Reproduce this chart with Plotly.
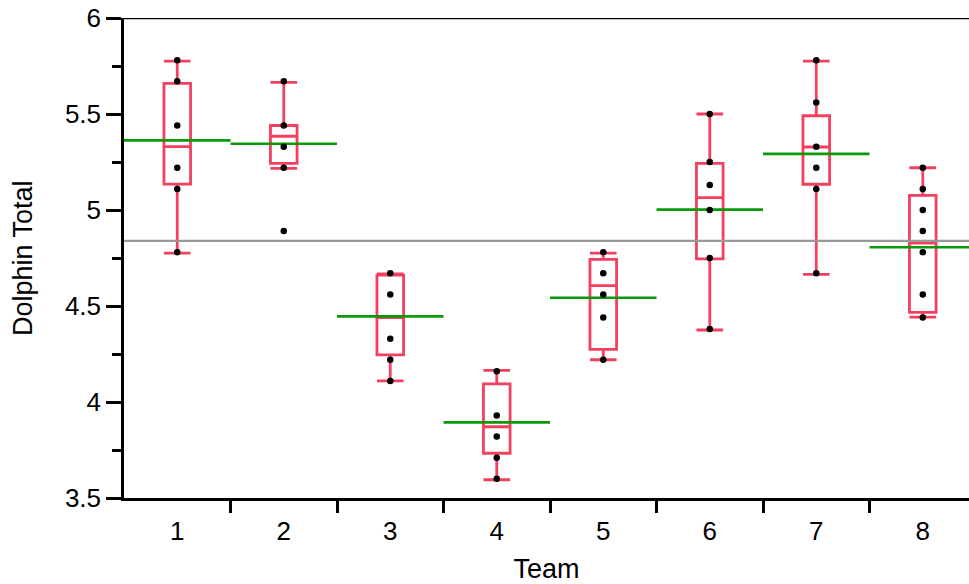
import plotly.graph_objects as go

teams = [1, 2, 3, 4, 5, 6, 7, 8]
team_labels = ["1", "2", "3", "4", "5", "6", "7", "8"]

points = {
    1: [5.78, 5.67, 5.44, 5.22, 5.11, 4.78],
    2: [5.67, 5.44, 5.33, 5.22, 4.89],
    3: [4.67, 4.56, 4.33, 4.22, 4.11],
    4: [4.16, 3.93, 3.82, 3.71, 3.60],
    5: [4.78, 4.67, 4.56, 4.44, 4.22],
    6: [5.50, 5.25, 5.13, 5.00, 4.75, 4.38],
    7: [5.78, 5.56, 5.33, 5.22, 5.11, 4.67],
    8: [5.22, 5.11, 5.00, 4.89, 4.78, 4.56, 4.44],
}

box_upper = [5.775, 5.665, 4.667, 4.165, 4.775, 5.50, 5.775, 5.22]
box_q3 = [5.66, 5.44, 4.661, 4.094, 4.743, 5.243, 5.491, 5.076]
box_median = [5.33, 5.384, 4.439, 3.871, 4.606, 5.064, 5.328, 4.828]
box_q1 = [5.135, 5.243, 4.245, 3.733, 4.274, 4.745, 5.134, 4.467]
box_lower = [4.775, 5.217, 4.11, 3.595, 4.22, 4.375, 4.665, 4.442]

team_means = [5.363, 5.345, 4.446, 3.894, 4.543, 5.002, 5.292, 4.806]
grand_mean = 4.839

RED = "#F4405E"
GREEN = "#0A990A"
GRAY = "#999999"
FONT = "Liberation Sans, Arial, Helvetica, sans-serif"

fig = go.Figure()

# grand mean line
fig.add_trace(go.Scatter(
    x=[0.5, 8.6], y=[grand_mean, grand_mean], mode="lines",
    line=dict(color=GRAY, width=2.4), hoverinfo="skip", showlegend=False,
))

# group mean lines
mx, my = [], []
for t, m in zip(teams, team_means):
    mx += [t - 0.5, t + 0.5, None]
    my += [m, m, None]
fig.add_trace(go.Scatter(
    x=mx, y=my, mode="lines", line=dict(color=GREEN, width=2.7),
    hoverinfo="skip", showlegend=False,
))

# boxes
fig.add_trace(go.Box(
    x=teams, q1=box_q1, median=box_median, q3=box_q3,
    lowerfence=box_lower, upperfence=box_upper,
    width=0.25, whiskerwidth=1.0,
    line=dict(color=RED, width=2.8), fillcolor="rgba(0,0,0,0)",
    boxpoints=False, showlegend=False,
))

# data points
px, py = [], []
for t in teams:
    for v in points[t]:
        px.append(t)
        py.append(v)
fig.add_trace(go.Scatter(
    x=px, y=py, mode="markers",
    marker=dict(color="black", size=6.5), showlegend=False,
))

# top frame line
fig.add_shape(type="line", xref="paper", yref="y", x0=0, x1=1, y0=6, y1=6,
              line=dict(color="black", width=2.5))

# y-axis title as annotation for precise placement
fig.add_annotation(text="Dolphin Total", xref="paper", yref="paper",
                   x=0, y=0.5, xanchor="center", yanchor="middle",
                   xshift=-101, textangle=-90, showarrow=False,
                   font=dict(size=27, family=FONT, color="black"))

fig.update_layout(
    width=969, height=584,
    margin=dict(l=124, r=0, t=18, b=86, autoexpand=False),
    plot_bgcolor="white", paper_bgcolor="white",
    font=dict(family=FONT, color="black", size=26),
    xaxis=dict(
        range=[0.5, 8.434], showgrid=False, zeroline=False, automargin=False,
        showline=True, linecolor="black", linewidth=2.5,
        tickmode="array", tickvals=teams, ticktext=team_labels,
        ticks="", ticklabelstandoff=8,
        tickfont=dict(size=26, family=FONT),
        minor=dict(tickmode="array", tickvals=[1.5, 2.5, 3.5, 4.5, 5.5, 6.5, 7.5],
                   ticks="outside", ticklen=12, tickwidth=2.5, tickcolor="black"),
        title=dict(text="Team", font=dict(size=27, family=FONT), standoff=26),
    ),
    yaxis=dict(
        range=[3.5, 6], showgrid=False, zeroline=False, automargin=False,
        showline=True, linecolor="black", linewidth=2.5,
        tickmode="array", tickvals=[3.5, 4, 4.5, 5, 5.5, 6],
        ticktext=["3.5", "4", "4.5", "5", "5.5", "6"],
        ticks="outside", ticklen=15, tickwidth=2.5, tickcolor="black",
        tickfont=dict(size=26, family=FONT),
        minor=dict(tickmode="array", tickvals=[3.75, 4.25, 4.75, 5.25, 5.75],
                   ticks="outside", ticklen=9, tickwidth=2.5, tickcolor="black"),
    ),
)

fig.write_html("out.html", config={"displayModeBar": False},
               post_script="document.body.style.margin='0';document.body.style.padding='0';")
